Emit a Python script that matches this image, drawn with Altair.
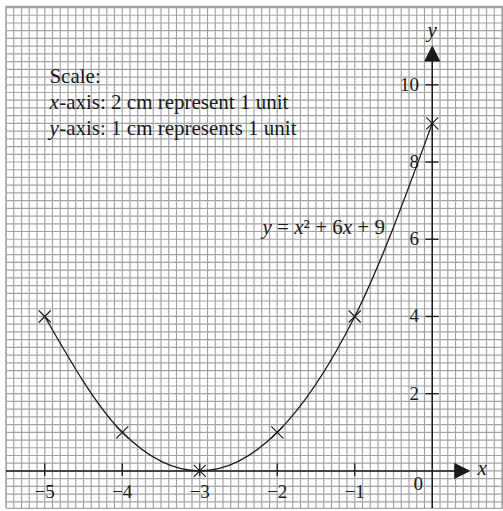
import altair as alt
import pandas as pd

# Plotted points of y = x^2 + 6x + 9
x_values = [-5, -4, -3, -2, -1, 0]
y_values = [4, 1, 0, 1, 4, 9]

# Axis ticks and their labels
x_ticks = [-5, -4, -3, -2, -1]
x_tick_labels = ["−5", "−4", "−3", "−2", "−1"]
y_ticks = [2, 4, 6, 8, 10]
y_tick_labels = ["2", "4", "6", "8", "10"]

# Graph-paper squares: 0.1 unit across, 0.2 unit up
X_MIN, X_MAX = -5.5, 0.9
Y_MIN, Y_MAX = -0.96, 12.04
x_grid = [round(X_MIN + 0.1 * i, 2) for i in range(65)]
y_grid = [round(-0.8 + 0.2 * i, 2) for i in range(65)]

SERIF = "Liberation Serif"
INK = "#1a1a1a"
GRID = "#a4a4a4"
FS = 21  # annotation font size
K = FS / 20.0

xscale = alt.Scale(domain=[X_MIN, X_MAX], nice=False, zero=False)
yscale = alt.Scale(domain=[Y_MIN, Y_MAX], nice=False, zero=False)
blank = alt.Axis(labels=False, ticks=False, domain=False, grid=False, title=None)

points = pd.DataFrame({"x": x_values, "y": y_values})
one = alt.InlineData(values=[{"k": 1}])

# graph paper
vgrid = alt.Chart(pd.DataFrame({"gx": x_grid})).mark_rule(color=GRID, strokeWidth=1.2).encode(
    x=alt.X("gx:Q", scale=xscale, axis=blank), y=alt.datum(Y_MIN), y2=alt.datum(Y_MAX)
)
hgrid = alt.Chart(pd.DataFrame({"gy": y_grid})).mark_rule(color=GRID, strokeWidth=1.2).encode(
    y=alt.Y("gy:Q", scale=yscale, axis=blank), x=alt.datum(X_MIN), x2=alt.datum(X_MAX)
)

curve = alt.Chart(points).mark_line(interpolate="monotone", color=INK, strokeWidth=1.3).encode(
    x=alt.X("x:Q", scale=xscale, axis=blank),
    y=alt.Y("y:Q", scale=yscale, axis=blank),
)

crosses = alt.Chart(points).mark_point(
    shape="M-1,-1L1,1M1,-1L-1,1", size=144, filled=False, stroke=INK, strokeWidth=1.2, opacity=1
).encode(x="x:Q", y="y:Q")

x_axis_line = alt.Chart(one).mark_rule(color=INK, strokeWidth=1.5).encode(
    x=alt.datum(X_MIN), x2=alt.datum(0.35), y=alt.datum(0)
)
y_axis_line = alt.Chart(one).mark_rule(color=INK, strokeWidth=1.5).encode(
    x=alt.datum(0), y=alt.datum(Y_MIN), y2=alt.datum(10.75)
)

xt = pd.DataFrame({"x": x_ticks, "label": x_tick_labels})
yt = pd.DataFrame({"y": y_ticks, "label": y_tick_labels})

x_tick_marks = alt.Chart(xt).mark_rule(color=INK, strokeWidth=1.3).encode(
    x="x:Q", y=alt.datum(-0.13), y2=alt.datum(0.2)
)
y_tick_marks = alt.Chart(yt).mark_rule(color=INK, strokeWidth=1.3).encode(
    y="y:Q", x=alt.datum(-0.09), x2=alt.datum(0.08)
)

x_tick_text = alt.Chart(xt).mark_text(
    font=SERIF, fontSize=19, color=INK, align="center", baseline="middle"
).encode(x="x:Q", y=alt.datum(-0.55), text="label:N")
y_tick_text = alt.Chart(yt).mark_text(
    font=SERIF, fontSize=19, color=INK, align="right", baseline="middle"
).encode(y="y:Q", x=alt.datum(-0.17), text="label:N")

arrow_x = alt.Chart(one).mark_point(
    shape="M-1,-1L1,0L-1,1Z", size=169, filled=True, fill=INK, stroke=INK, opacity=1
).encode(x=alt.datum(0.38), y=alt.datum(0))
arrow_y = alt.Chart(one).mark_point(
    shape="M-1,1L0,-1L1,1Z", size=169, filled=True, fill=INK, stroke=INK, opacity=1
).encode(x=alt.datum(0), y=alt.datum(10.8))


def label(text, x, y, dx=0, italic=False, size=FS, align="left"):
    return alt.Chart(one).mark_text(
        text=text, dx=dx, align=align, baseline="middle", font=SERIF, fontSize=size,
        fontStyle="italic" if italic else "normal", color=INK,
    ).encode(x=alt.datum(x), y=alt.datum(y))


texts = [
    label("0", -0.18, -0.33, size=19, align="center"),
    label("x", 0.645, 0.05, italic=True, align="center"),
    label("y", 0.0, 11.38, italic=True, align="center"),
    label("Scale:", -4.94, 10.21),
    label("x", -4.94, 9.54, italic=True),
    label("-axis: 2 cm represent 1 unit", -4.94, 9.54, dx=9.3 * K),
    label("y", -4.94, 8.86, italic=True),
    label("-axis: 1 cm represents 1 unit", -4.94, 8.86, dx=9.3 * K),
    # equation label beside the curve
    label("y", -2.19, 6.3, italic=True),
    label("=", -2.19, 6.3, dx=13.9 * K),
    label("x", -2.19, 6.3, dx=30.2 * K, italic=True),
    label("² + 6", -2.19, 6.3, dx=39.1 * K),
    label("x", -2.19, 6.3, dx=76.4 * K, italic=True),
    label("+ 9", -2.19, 6.3, dx=90.3 * K),
]

chart = alt.layer(
    vgrid, hgrid, curve, x_axis_line, y_axis_line, x_tick_marks, y_tick_marks, crosses,
    arrow_x, arrow_y, x_tick_text, y_tick_text, *texts
).properties(
    width=496, height=502,
    autosize=alt.AutoSizeParams(type="none"),
    padding={"left": 6, "top": 6, "right": 1, "bottom": 3},
    background="white",
).configure_view(stroke=GRID, strokeWidth=1.2)

chart.save("out.html", embed_options={"renderer": "svg", "actions": False})
